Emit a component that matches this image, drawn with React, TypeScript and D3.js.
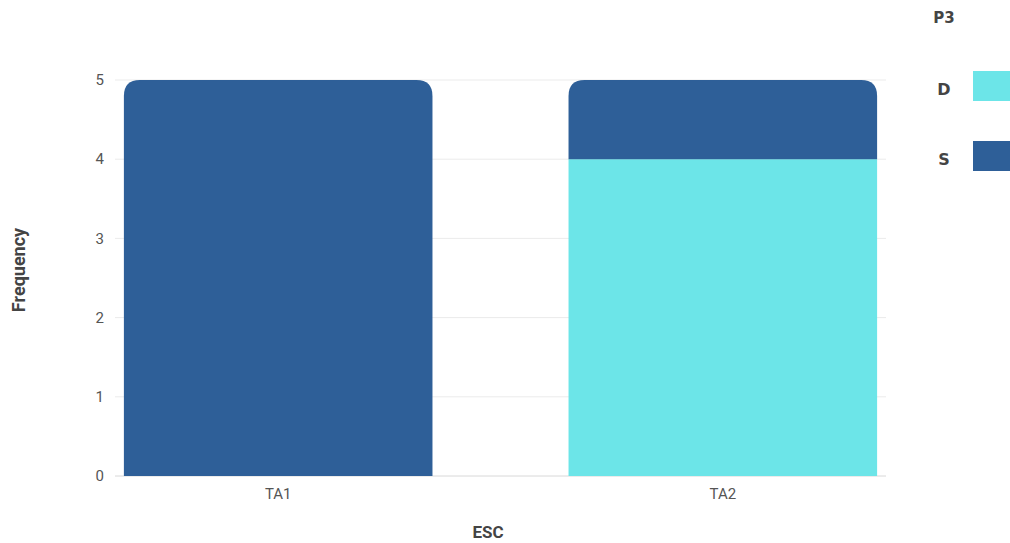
import React from 'react'
import * as d3 from 'd3'

// ESC categories, stacked by P3
const categories = ['TA1', 'TA2']
const seriesKeys = ['D', 'S']
const valuesD = [0, 4]
const valuesS = [5, 1]
const yTicks = [0, 1, 2, 3, 4, 5]

const colors: Record<string, string> = { D: '#6ce5e8', S: '#2e5f98' }

const W = 1010
const H = 543
const margin = { left: 115, right: 124, top: 80, bottom: 67 }

// path for a rect with only the top corners rounded
const topRounded = (x: number, y: number, w: number, h: number, r: number) => {
  const rr = Math.min(r, h, w / 2)
  return `M${x},${y + h}V${y + rr}Q${x},${y} ${x + rr},${y}H${x + w - rr}Q${x + w},${y} ${x + w},${y + rr}V${y + h}Z`
}

export default function App() {
  const rows = categories.map((c, i) => ({ cat: c, D: valuesD[i], S: valuesS[i] }))
  const stacked = d3.stack<any>().keys(seriesKeys)(rows)

  const x = d3.scaleBand()
    .domain(categories)
    .range([margin.left, W - margin.right])
    .paddingInner(0.306)
    .paddingOuter(0.02)
  const y = d3.scaleLinear().domain([0, 5]).range([H - margin.bottom, margin.top])

  const font = 'Roboto, "Noto Sans", sans-serif'
  const wide = '"DejaVu Sans", sans-serif'

  return (
    <svg width={W} height={H} style={{ position: 'absolute', left: 0, top: 0 }}>
      <rect width={W} height={H} fill="#fff" />
      {yTicks.map(t => (
        <g key={t}>
          <line x1={margin.left} x2={W - margin.right} y1={y(t)} y2={y(t)}
            stroke={t === 0 ? '#d8d8d8' : '#ebebeb'} strokeWidth={1} />
          <text x={104} y={y(t)} dy="0.35em" textAnchor="end" fontSize={15}
            fill="#555" fontFamily={font}>{t}</text>
        </g>
      ))}
      {stacked.map(layer => layer.map((d, i) => {
        const h = y(d[0]) - y(d[1])
        if (h <= 0) return null
        const isTop = seriesKeys.slice(seriesKeys.indexOf(layer.key) + 1)
          .every(k => (rows[i] as any)[k] === 0)
        const bx = x(categories[i])!
        const bw = x.bandwidth()
        return isTop
          ? <path key={layer.key + i} d={topRounded(bx, y(d[1]), bw, h, 16)} fill={colors[layer.key]} />
          : <rect key={layer.key + i} x={bx} y={y(d[1])} width={bw} height={h} fill={colors[layer.key]} />
      }))}
      {categories.map(c => (
        <text key={c} x={x(c)! + x.bandwidth() / 2} y={499} textAnchor="middle" fontSize={15}
          fill="#555" fontFamily={font}>{c}</text>
      ))}
      <text x={488} y={538} textAnchor="middle" fontSize={17} fontWeight="bold" fill="#444"
        fontFamily={font}>ESC</text>
      <text transform="translate(25,270) rotate(-90)" textAnchor="middle" fontSize={18}
        fontWeight="bold" fill="#444" fontFamily={font}>Frequency</text>
      <text x={944} y={18} dy="0.35em" textAnchor="middle" fontSize={15} fontWeight="bold" fill="#444"
        fontFamily={wide}>P3</text>
      {seriesKeys.map((k, i) => (
        <g key={k}>
          <text x={944} y={89 + i * 70} dy="0.35em" textAnchor="middle" fontSize={16}
            fontWeight="bold" fill="#444" fontFamily={wide}>{k}</text>
          <rect x={973} y={71 + i * 70} width={40} height={30} fill={colors[k]} />
        </g>
      ))}
    </svg>
  )
}
